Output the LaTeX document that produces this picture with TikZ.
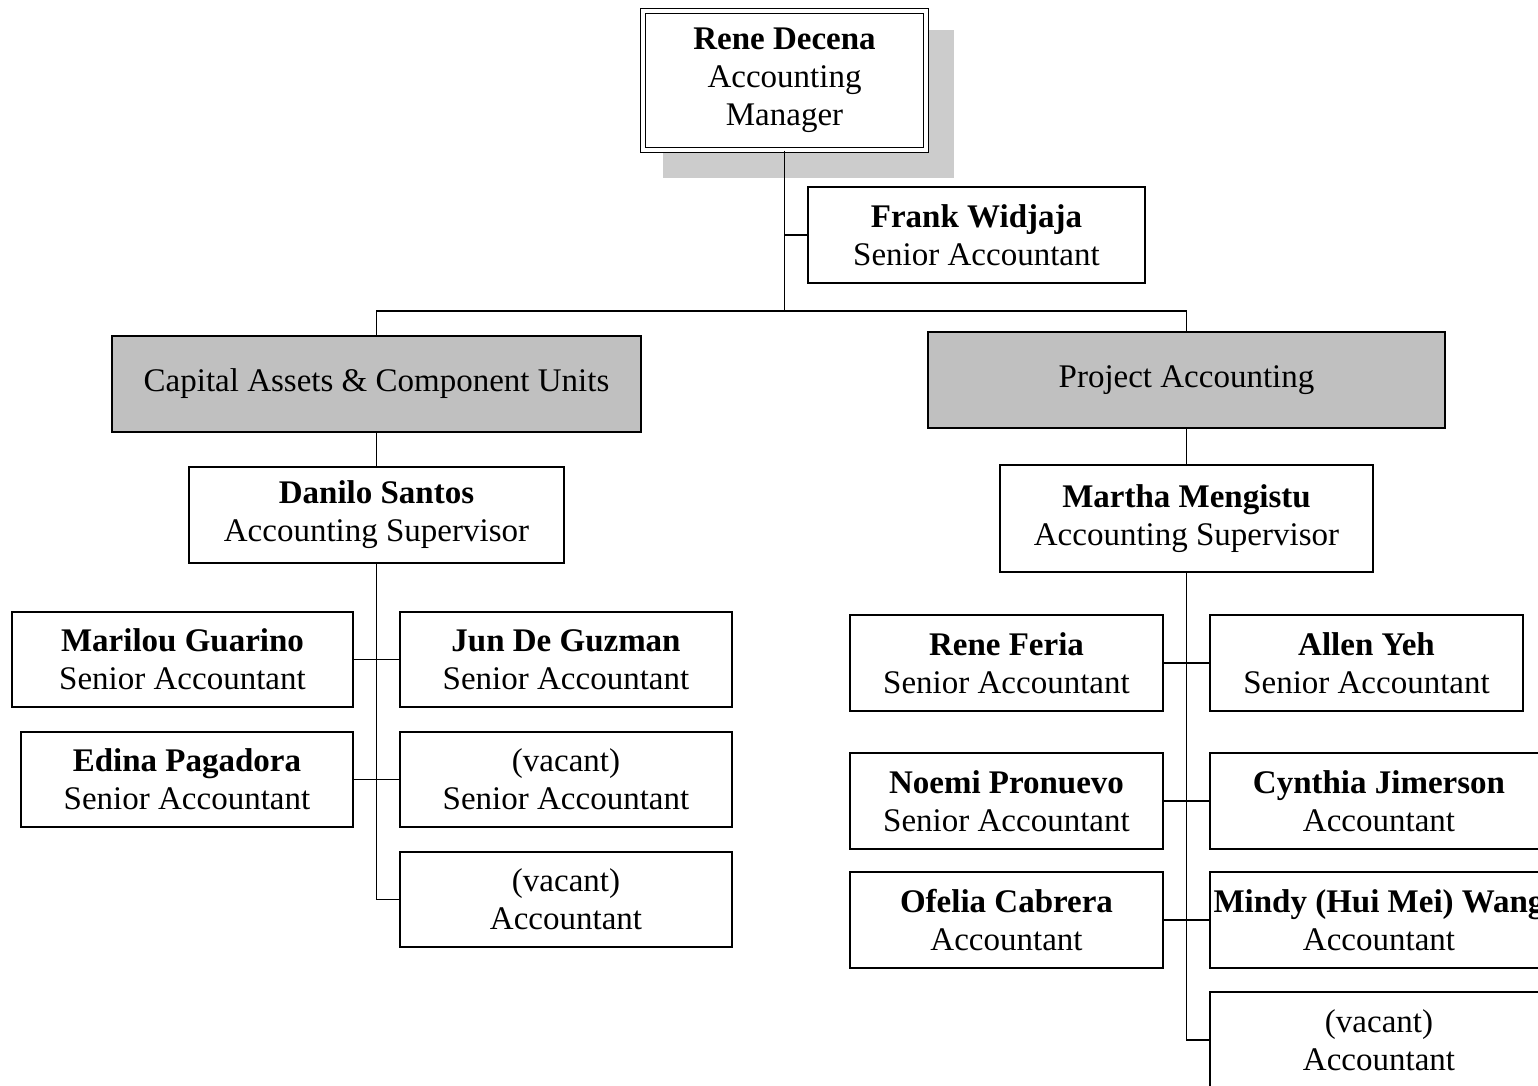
\documentclass[tikz,border=0pt]{standalone}
\usepackage{fontspec}
\setmainfont{Liberation Serif}
\begin{document}
\begin{tikzpicture}[x=0.5pt,y=-0.5pt,
  box/.style={draw, line width=0.9pt, fill=white, inner sep=0pt, align=center,
    minimum height=48pt, font=\fontsize{16.5}{19}\selectfont},
  unit/.style={box, fill=unitgray},
  link/.style={line width=0.9pt}]
\definecolor{unitgray}{HTML}{C0C0C0}
\definecolor{shadowgray}{HTML}{CCCCCC}
\useasboundingbox (0,0) rectangle (1538,1086);
\begin{scope}
\clip (0,0) rectangle (1538,1086);
% top
\node[box, draw=none, fill=none, minimum width=141.5pt, minimum height=69.5pt] (topbase) at (784.5,80.5) {};
\fill[shadowgray] ([shift={(21,20)}]topbase.north west) rectangle ([shift={(27,27)}]topbase.south east);
\node[box, line width=0.6pt, double, double distance=1.6pt, minimum width=141.5pt, minimum height=69.5pt] (top) at (784.5,80.5)
  {\textbf{Rene Decena}\\Accounting\\Manager};
\node[box, minimum width=168.5pt] (frank) at (976.5,235) {\textbf{Frank Widjaja}\\Senior Accountant};
\node[unit, minimum width=264.5pt] (cap) at (376.5,384) {Capital Assets \& Component Units};
\node[unit, minimum width=258.5pt] (proj) at (1186.5,380) {Project Accounting};
\node[box, minimum width=187.5pt] (danilo) at (376.5,515) {\textbf{Danilo Santos}\\Accounting Supervisor};
\node[box, minimum width=170.5pt, minimum height=47.5pt] (marilou) at (182.5,659.5) {\textbf{Marilou Guarino}\\Senior Accountant};
\node[box, minimum width=166pt, minimum height=47.5pt] (jun) at (566,659.5) {\textbf{Jun De Guzman}\\Senior Accountant};
\node[box, minimum width=166pt, minimum height=47.5pt] (edina) at (187,779.5) {\textbf{Edina Pagadora}\\Senior Accountant};
\node[box, minimum width=166pt, minimum height=47.5pt] (vaca) at (566,779.5) {(vacant)\\Senior Accountant};
\node[box, minimum width=166pt, minimum height=47.5pt] (vacb) at (566,899.5) {(vacant)\\Accountant};
\node[box, minimum width=186.5pt, minimum height=53.5pt] (martha) at (1186.5,518.5) {\textbf{Martha Mengistu}\\Accounting Supervisor};
\node[box, minimum width=156.5pt] (feria) at (1006.5,663) {\textbf{Rene Feria}\\Senior Accountant};
\node[box, minimum width=156.5pt] (allen) at (1366.5,663) {\textbf{Allen Yeh}\\Senior Accountant};
\node[box, minimum width=156.5pt] (noemi) at (1006.5,801) {\textbf{Noemi Pronuevo}\\Senior Accountant};
\node[box, minimum width=169pt] (cynthia) at (1379,801) {\textbf{Cynthia Jimerson}\\Accountant};
\node[box, minimum width=156.5pt] (ofelia) at (1006.5,920) {\textbf{Ofelia Cabrera}\\Accountant};
\node[box, minimum width=169pt] (mindy) at (1379,920) {\textbf{Mindy (Hui Mei) Wang}\\Accountant};
\node[box, minimum width=169pt] (vacc) at (1379,1040) {(vacant)\\Accountant};
% connectors
\coordinate (hub) at (784.5,311);
\draw[link] (top.south) -- (hub);
\draw[link] (top.south |- frank.west) -- (frank.west);
\draw[link] (cap.north) |- (hub) -| (proj.north);
\draw[link] (cap.south) -- (danilo.north);
\draw[link] (danilo.south) |- (vacb.west);
\draw[link] (marilou.east) -- (jun.west);
\draw[link] (edina.east) -- (vaca.west);
\draw[link] (proj.south) -- (martha.north);
\draw[link] (martha.south) |- (vacc.west);
\draw[link] (feria.east) -- (allen.west);
\draw[link] (noemi.east) -- (cynthia.west);
\draw[link] (ofelia.east) -- (mindy.west);
\end{scope}
\end{tikzpicture}
\end{document}
